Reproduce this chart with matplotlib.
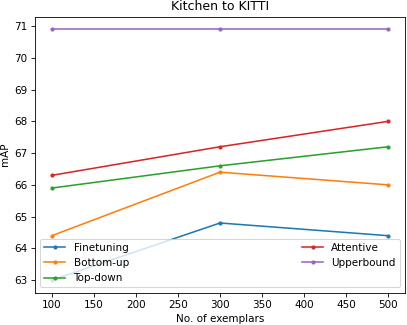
import matplotlib
matplotlib.use("Agg")
import matplotlib.pyplot as plt

plt.rcParams['font.family'] = ['DejaVu Sans']

exemplars = [100, 300, 500]
finetuning = [63.0, 64.8, 64.4]
bottom_up = [64.4, 66.4, 66.0]
top_down = [65.9, 66.6, 67.2]
attentive = [66.3, 67.2, 68.0]
upperbound = [70.9, 70.9, 70.9]

series = [
    ("Finetuning", finetuning, "#1f77b4"),
    ("Bottom-up", bottom_up, "#ff7f0e"),
    ("Top-down", top_down, "#2ca02c"),
    ("Attentive", attentive, "#d62728"),
    ("Upperbound", upperbound, "#9467bd"),
]

DPI = 75
fig = plt.figure(figsize=(407 / DPI, 325 / DPI), dpi=DPI)
ax = fig.add_axes([35 / 407, 1 - 292.7 / 325, 370 / 407, 276 / 325])
for name, vals, c in series:
    ax.plot(exemplars, vals, marker='.', linewidth=1.5, color=c, label=name)

ax.set_title("Kitchen to KITTI")
ax.set_xlabel("No. of exemplars")
ax.set_ylabel("mAP")
ax.set_xticks([100, 150, 200, 250, 300, 350, 400, 450, 500])
ax.set_yticks([63, 64, 65, 66, 67, 68, 69, 70, 71])
ax.legend(ncol=2, mode='expand', loc='lower left', bbox_to_anchor=(0, 0, 1, 1))
fig.savefig("out.png", dpi=DPI)
